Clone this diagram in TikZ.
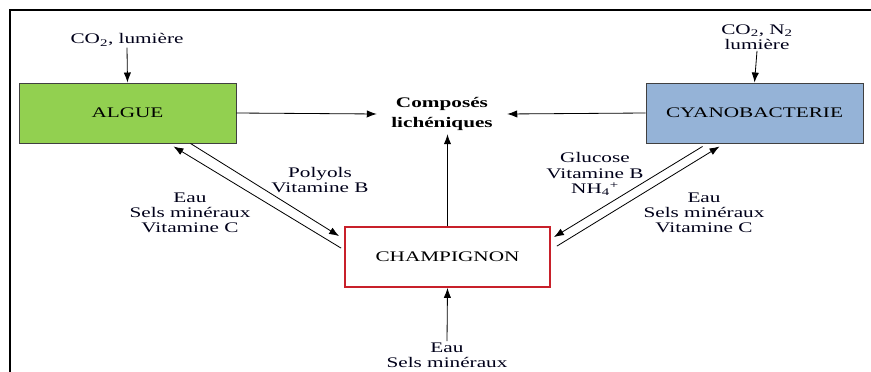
\documentclass[tikz,border=0pt]{standalone}
\usepackage{fontspec}
\setmainfont{Liberation Serif}[FakeStretch=1.45]
\usepackage{tikz}
\usetikzlibrary{arrows.meta,arrows}
\usetikzlibrary{calc,positioning}
\tikzset{>={Latex[length=3mm,width=2.2mm]}}
\definecolor{vertalgue}{HTML}{92D050}
\definecolor{bleucyano}{HTML}{95B3D7}
\definecolor{rougechamp}{HTML}{C8202A}
\definecolor{grisbord}{HTML}{404040}

\begin{document}
\begin{tikzpicture}[
    x=0.03cm, y=-0.03cm,
    every node/.style={font=\fontsize{12.5}{13}\selectfont, align=center, inner sep=1pt},
    boite/.style={rectangle, draw=grisbord, thick, minimum height=1.8cm},
    fleche/.style={draw, ->, line width=0.7pt},
    etiq/.style={text=black!90!blue}
    ]
\useasboundingbox (0,0) rectangle (871,372);
% cadre
\draw[line width=1.4pt] (10,372) -- (10,10) -- (871,10);

% les trois partenaires
\node[boite] (algue) [fill=vertalgue, minimum width=6.51cm] at (127.5,113) {ALGUE};
\node[boite] (cyano) [fill=bleucyano, minimum width=6.51cm] at (754.5,113) {CYANOBACTERIE};
\node[boite] (champ) [draw=rougechamp, line width=1.5pt, fill=white, minimum width=6.15cm] at (447.5,257) {CHAMPIGNON};
\node (comp) [minimum width=3.9cm, minimum height=1.2cm, font=\fontsize{12.5}{17}\selectfont\bfseries] at (442,114) {Composés\\lichéniques};

% entrees
\node[etiq] (co2a) at (127,40) {CO\textsubscript{2}, lumière};
\node[etiq] (co2c) at (757,37) {CO\textsubscript{2}, N\textsubscript{2}\\lumière};
\node[etiq] (eaub) at (447,355) {Eau\\Sels minéraux};

% echanges
\node[etiq] (poly) at (320,180) {Polyols\\Vitamine B};
\node[etiq] (eaua) at (190,213) {Eau\\Sels minéraux\\Vitamine C};
\node[etiq] (gluc) at (595,174) {Glucose\\Vitamine B\\NH\textsubscript{4}\textsuperscript{+}};
\node[etiq] (eauc) at (704,213) {Eau\\Sels minéraux\\Vitamine C};

\draw[fleche] (co2a.south) -- (algue.north);
\draw[fleche] (co2c.south) -- (cyano.north);
\draw[fleche] (eaub.north) -- (champ.south);
\draw[fleche] (algue.east) -- (comp.west);
\draw[fleche] (cyano.west) -- (comp.east);
\draw[fleche] (champ.north) -- (champ.north |- comp.south);

%algue <-> champignon
\draw[fleche] ($(algue.south east)+(-46,0)$) -- ($(champ.north west)+(-5,10)$);
\draw[fleche] ($(champ.north west)+(-3,22)$) -- ($(algue.south east)+(-63,3)$);
%cyano <-> champignon
\draw[fleche] ($(cyano.south west)+(57,3)$) -- ($(champ.north east)+(3,11)$);
\draw[fleche] ($(champ.north east)+(6,20)$) -- ($(cyano.south west)+(74,3)$);
\end{tikzpicture}
\end{document}
